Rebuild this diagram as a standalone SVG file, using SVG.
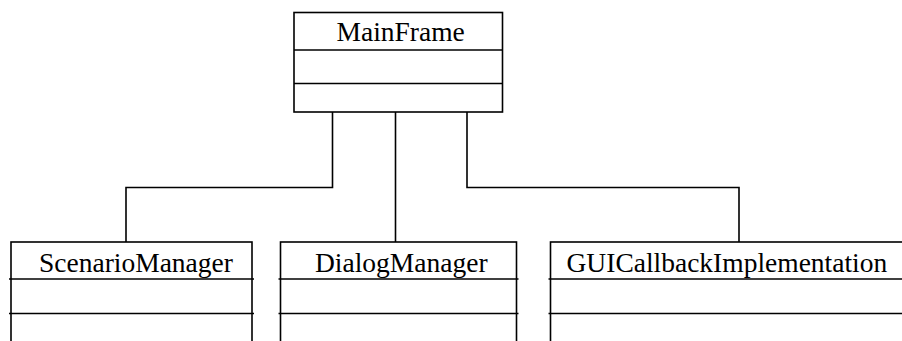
<svg xmlns="http://www.w3.org/2000/svg" width="902" height="341" viewBox="0 0 902 341">
  <style>
    .box { fill: #fff; stroke: #000; stroke-width: 1.6; }
    .div { stroke: #000; stroke-width: 1.6; fill: none; }
    .wire { stroke: #000; stroke-width: 1.6; fill: none; }
    .name { font-family: "Liberation Serif", "Times New Roman", serif; font-size: 27.5px; fill: #000; }
  </style>
  <rect width="902" height="341" fill="#fff"/>

  <g id="connectors">
    <polyline class="wire" points="332.5,112 332.5,187.5 126,187.5 126,242"/>
    <line class="wire" x1="395.5" y1="112" x2="395.5" y2="242"/>
    <polyline class="wire" points="467,112 467,187.5 739,187.5 739,242"/>
  </g>

  <g id="MainFrame">
    <rect class="box" x="294" y="12.5" width="208.5" height="99.5"/>
    <line class="div" x1="294" y1="50" x2="502.5" y2="50"/>
    <line class="div" x1="294" y1="83.5" x2="502.5" y2="83.5"/>
    <text class="name" x="336.5" y="40.5">MainFrame</text>
  </g>

  <g id="ScenarioManager">
    <rect class="box" x="11" y="242" width="241" height="110"/>
    <line class="div" x1="9" y1="279" x2="254" y2="279"/>
    <line class="div" x1="9" y1="313.5" x2="254" y2="313.5"/>
    <text class="name" x="39" y="271.5">ScenarioManager</text>
  </g>

  <g id="DialogManager">
    <rect class="box" x="280.5" y="242" width="236" height="110"/>
    <line class="div" x1="278.5" y1="279" x2="518.5" y2="279"/>
    <line class="div" x1="278.5" y1="313.5" x2="518.5" y2="313.5"/>
    <text class="name" x="315" y="271.5">DialogManager</text>
  </g>

  <g id="GUICallbackImplementation">
    <rect class="box" x="550.5" y="242" width="360" height="110"/>
    <line class="div" x1="548.5" y1="279" x2="905" y2="279"/>
    <line class="div" x1="548.5" y1="313.5" x2="905" y2="313.5"/>
    <text class="name" x="566.5" y="271.5">GUICallbackImplementation</text>
  </g>
</svg>
